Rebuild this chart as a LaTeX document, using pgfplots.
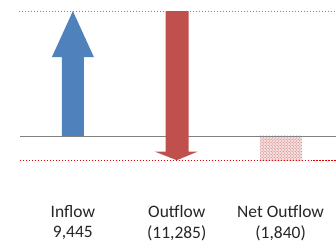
\documentclass[border=0pt]{standalone}
\usepackage{pgfplots}
\pgfplotsset{compat=1.18}
\usepackage{fontspec}
\setmainfont{Carlito}
\usetikzlibrary{patterns}
\definecolor{cblue}{RGB}{79,129,189}
\definecolor{cred}{RGB}{192,80,77}
\definecolor{dblue}{RGB}{90,140,210}
\begin{document}
\begin{tikzpicture}
\begin{axis}[
  width=336pt, height=243pt, scale only axis,
  xmin=-0.7019, xmax=2.5288, ymin=-8085, ymax=10277,
  axis line style={draw=none},
  major tick length=0pt,
  ytick=\empty,
  xtick={0,1,2},
  xticklabels={{Inflow\\9,445},{Outflow\\(11,285)},{Net Outflow\\(1,840)}},
  xticklabel style={align=center, font=\fontsize{17.5}{21}\selectfont, anchor=north, inner sep=0pt, yshift=38pt, text=black!85},
  clip=false,
]
% net outflow box
\addplot[draw=none, fill=cred!18] coordinates {(1.798,0) (2.202,0) (2.202,-1840) (1.798,-1840)} -- cycle;
\addplot[draw=none, pattern=crosshatch dots, pattern color=cred!90] coordinates {(1.798,0) (2.202,0) (2.202,-1840) (1.798,-1840)} -- cycle;
% reference lines
\addplot[gray, line width=0.8pt] coordinates {(-0.51,0) (2.5288,0)};
\addplot[dblue, dash pattern=on 1.2pt off 1.8pt, line width=1pt] coordinates {(-0.519,9445) (2.5288,9445)};
% arrows
\addplot[draw=none, fill=cblue] coordinates {(-0.106,0) (0.106,0) (0.106,5969) (0.202,5969) (0,9445) (-0.202,5969) (-0.106,5969)} -- cycle;
\addplot[draw=none, fill=cred] coordinates {(0.894,9445) (1.115,9445) (1.115,-1186) (1.202,-1186) (1.0,-1840) (0.788,-1186) (0.894,-1186)} -- cycle;
\addplot[red!90!black, dash pattern=on 1.2pt off 1.8pt, line width=1pt] coordinates {(-0.51,-1840) (2.5288,-1840)};
\end{axis}
\end{tikzpicture}
\end{document}
